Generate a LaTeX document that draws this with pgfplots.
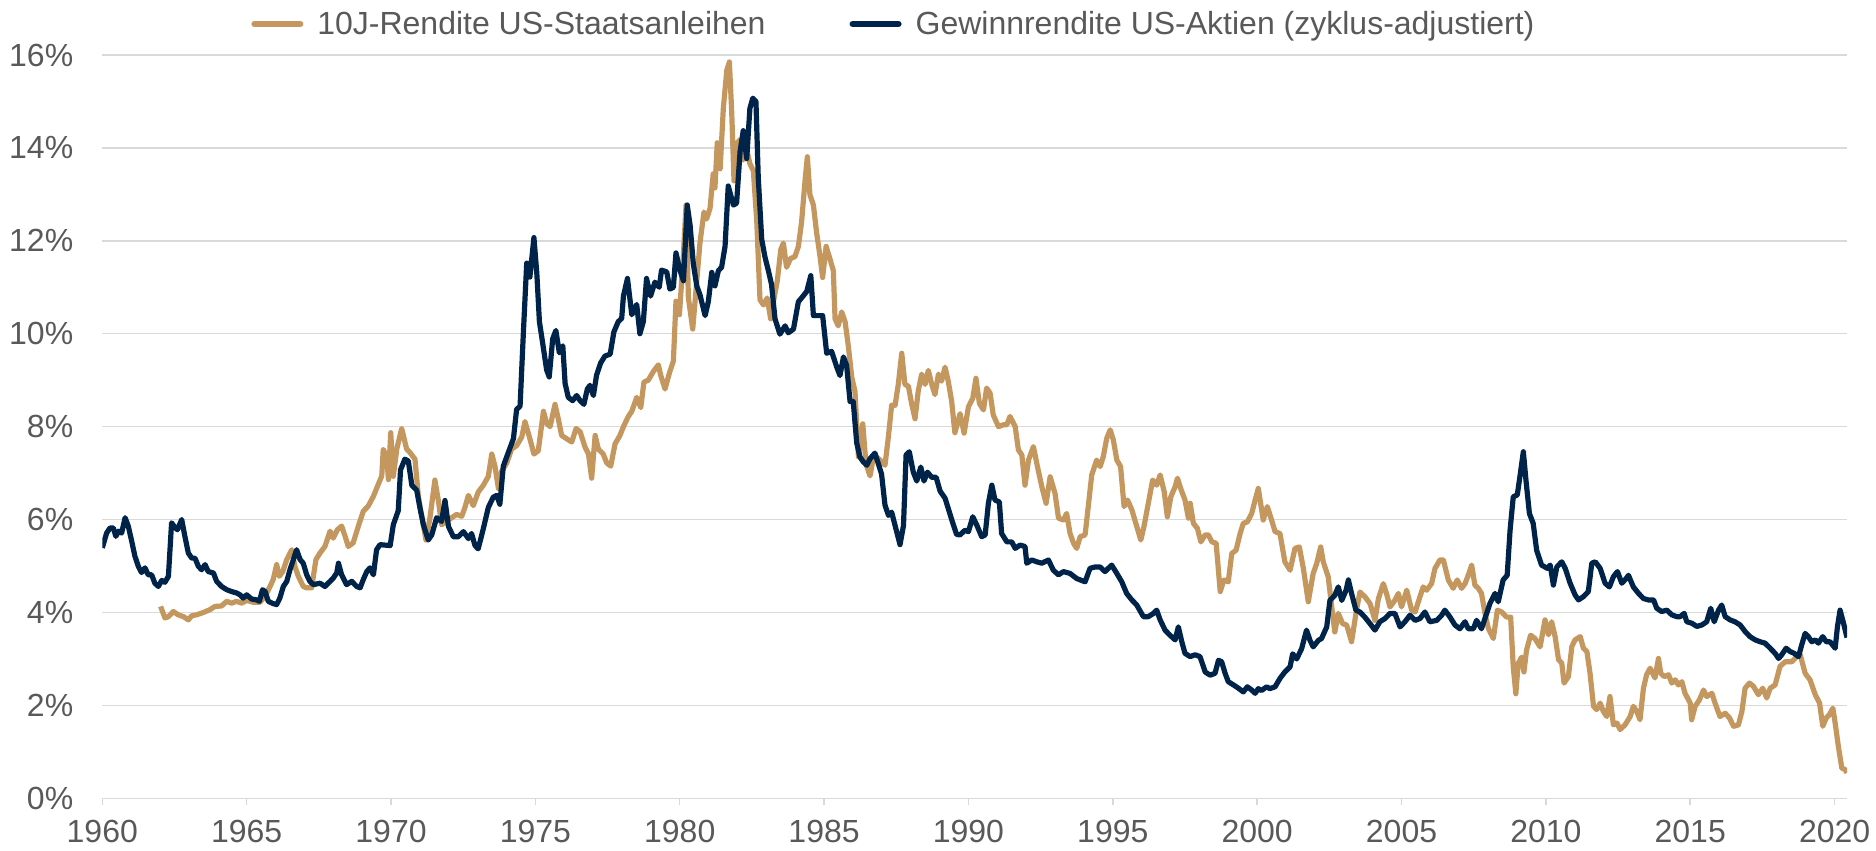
\documentclass[border=0pt]{standalone}
\usepackage{fontspec}
\setmainfont{Liberation Sans}
\usepackage{pgfplots}
\pgfplotsset{compat=1.18}
\definecolor{bondtan}{HTML}{C4975F}
\definecolor{eqnavy}{HTML}{00234A}
\definecolor{gridgray}{HTML}{D9D9D9}
\definecolor{txtgray}{HTML}{595959}
\newcommand{\chartfont}{\fontsize{16}{19}\selectfont}

\begin{document}
\begin{tikzpicture}
\begin{axis}[
    scale only axis,
    width=872.35pt, height=371.65pt,
    xmin=1960, xmax=2020.43, ymin=0, ymax=16,
    axis x line*=bottom, axis y line*=left,
    axis line style={draw=none},
    xtick={1960,1965,...,2020},
    ytick={0,2,...,16},
    ymajorgrids,
    grid style={gridgray, line width=0.75pt},
    tick align=outside,
    major tick length=3.5pt,
    x tick style={gridgray, line width=0.75pt},
    y tick style={draw=none},
    tick label style={font=\chartfont, text=txtgray, /pgf/number format/assume math mode=true},
    xticklabel style={/pgf/number format/1000 sep={}, yshift=-4pt},
    yticklabel={\pgfmathprintnumber{\tick}\%},
    yticklabel style={xshift=-7.5pt},
    legend columns=2,
    legend style={draw=none, fill=none, at={(0.0852,1.0417)}, anchor=west,
        inner sep=0pt, font=\chartfont, text=txtgray,
        nodes={inner sep=0pt},
        /tikz/every odd column/.append style={column sep=7pt},
        /tikz/every even column/.append style={column sep=42pt}},
    legend image code/.code={\draw[#1, line width=3pt, line cap=round] (1.5pt,0pt) -- (24.5pt,0pt);},
    every axis plot/.append style={line width=2.6pt, line join=round, mark=none},
]
% 10-year Treasury yield
\addplot[bondtan] coordinates {
(1962.02,4.13)(1962.17,3.88)(1962.29,3.91)(1962.46,4.02)(1962.63,3.95)(1962.81,3.91)(1962.98,3.84)(1963.10,3.93)(1963.27,3.95)(1963.50,4.00)(1963.73,4.06)(1963.90,4.13)(1964.13,4.14)(1964.31,4.24)(1964.48,4.20)(1964.65,4.24)(1964.83,4.20)(1965.00,4.26)(1965.23,4.22)(1965.46,4.22)(1965.64,4.35)(1965.81,4.56)(1965.92,4.71)(1966.04,5.03)(1966.13,4.78)(1966.25,4.88)(1966.39,5.14)(1966.56,5.35)(1966.67,4.99)(1966.79,4.78)(1966.96,4.56)(1967.08,4.53)(1967.25,4.53)(1967.40,5.14)(1967.54,5.28)(1967.71,5.42)(1967.89,5.75)(1968.00,5.60)(1968.14,5.78)(1968.29,5.86)(1968.41,5.64)(1968.52,5.42)(1968.69,5.50)(1968.87,5.86)(1969.04,6.18)(1969.21,6.29)(1969.39,6.50)(1969.56,6.76)(1969.68,6.94)(1969.73,7.51)(1969.85,7.37)(1969.91,6.86)(1969.99,7.87)(1970.08,6.93)(1970.20,7.52)(1970.37,7.96)(1970.54,7.52)(1970.66,7.44)(1970.83,7.30)(1970.95,6.48)(1971.12,5.89)(1971.21,5.56)(1971.35,6.04)(1971.52,6.85)(1971.64,6.41)(1971.75,5.89)(1971.93,5.96)(1972.10,6.04)(1972.27,6.11)(1972.45,6.07)(1972.56,6.26)(1972.68,6.52)(1972.85,6.30)(1973.02,6.59)(1973.20,6.74)(1973.37,6.93)(1973.49,7.41)(1973.60,7.15)(1973.72,6.67)(1973.83,7.04)(1974.01,7.22)(1974.18,7.52)(1974.35,7.59)(1974.53,7.78)(1974.64,8.11)(1974.81,7.74)(1974.95,7.41)(1975.10,7.48)(1975.28,8.33)(1975.39,8.07)(1975.51,8.00)(1975.68,8.48)(1975.80,8.15)(1975.91,7.81)(1976.08,7.74)(1976.26,7.67)(1976.41,7.96)(1976.55,7.89)(1976.72,7.56)(1976.84,7.41)(1976.95,6.89)(1977.07,7.81)(1977.18,7.52)(1977.35,7.41)(1977.47,7.22)(1977.61,7.15)(1977.76,7.63)(1977.93,7.81)(1978.05,8.00)(1978.22,8.22)(1978.34,8.33)(1978.51,8.63)(1978.65,8.41)(1978.76,8.96)(1978.91,9.00)(1979.09,9.19)(1979.26,9.33)(1979.34,9.11)(1979.49,8.81)(1979.64,9.15)(1979.78,9.41)(1979.87,10.70)(1979.99,10.41)
(1980.13,11.73)(1980.22,12.77)(1980.30,10.77)(1980.45,10.10)(1980.56,10.91)(1980.70,11.95)(1980.84,12.62)(1980.93,12.47)(1981.05,12.70)(1981.16,13.44)(1981.22,13.14)(1981.30,14.11)(1981.40,13.55)(1981.51,14.85)(1981.63,15.67)(1981.72,15.85)(1981.80,14.78)(1981.88,13.29)(1982.00,14.11)(1982.09,14.18)(1982.20,13.74)(1982.32,13.96)(1982.43,13.66)(1982.55,13.51)(1982.67,12.40)(1982.78,10.73)(1982.90,10.62)(1983.03,10.77)(1983.15,10.32)(1983.27,10.77)(1983.38,11.14)(1983.50,11.81)(1983.59,11.95)(1983.70,11.43)(1983.84,11.62)(1983.99,11.66)(1984.11,11.88)(1984.22,12.40)(1984.34,13.29)(1984.42,13.81)(1984.51,12.99)(1984.63,12.77)(1984.74,12.18)(1984.86,11.66)(1984.95,11.21)(1985.07,11.88)(1985.18,11.66)(1985.32,11.36)(1985.38,10.32)(1985.49,10.17)(1985.61,10.47)(1985.73,10.25)(1985.84,9.73)(1985.96,9.06)(1986.07,8.76)(1986.19,7.35)(1986.34,8.06)(1986.45,7.20)(1986.59,6.94)(1986.71,7.35)(1986.82,7.35)(1987.00,7.24)(1987.11,7.17)(1987.23,7.80)(1987.34,8.46)(1987.46,8.46)(1987.57,8.91)(1987.69,9.58)(1987.80,8.91)(1987.92,8.87)(1988.03,8.50)(1988.15,8.17)(1988.26,8.76)(1988.38,9.13)(1988.50,8.91)(1988.61,9.21)(1988.73,8.91)(1988.84,8.69)(1988.96,9.13)(1989.07,8.98)(1989.19,9.28)(1989.30,8.98)(1989.42,8.54)(1989.53,7.87)(1989.71,8.28)(1989.85,7.86)
(1990.00,8.43)(1990.15,8.61)(1990.26,9.04)(1990.38,8.50)(1990.52,8.36)(1990.63,8.83)(1990.75,8.72)(1990.86,8.25)(1991.04,8.00)(1991.21,8.04)(1991.33,8.04)(1991.44,8.22)(1991.62,8.00)(1991.73,7.50)(1991.85,7.39)(1991.96,6.74)(1992.08,7.28)(1992.25,7.57)(1992.39,7.14)(1992.54,6.71)(1992.69,6.35)(1992.83,6.92)(1993.00,6.56)(1993.12,6.03)(1993.29,5.99)(1993.40,6.13)(1993.52,5.70)(1993.64,5.49)(1993.75,5.38)(1993.87,5.63)(1994.04,5.67)(1994.15,6.28)(1994.27,6.96)(1994.44,7.28)(1994.56,7.14)(1994.67,7.35)(1994.79,7.75)(1994.91,7.93)(1995.02,7.71)(1995.14,7.28)(1995.27,7.14)(1995.39,6.28)(1995.51,6.42)(1995.66,6.21)(1995.83,5.85)(1995.97,5.56)(1996.08,5.85)(1996.23,6.35)(1996.38,6.85)(1996.52,6.74)(1996.64,6.96)(1996.78,6.60)(1996.89,6.06)(1997.01,6.49)(1997.16,6.71)(1997.24,6.89)(1997.35,6.67)(1997.50,6.42)(1997.62,6.03)(1997.68,6.35)(1997.79,5.92)(1997.93,5.81)(1998.05,5.52)(1998.20,5.67)(1998.31,5.67)(1998.43,5.52)(1998.58,5.49)(1998.72,4.45)(1998.85,4.70)(1999.00,4.66)(1999.12,5.27)(1999.27,5.34)(1999.41,5.70)(1999.52,5.92)(1999.66,5.95)(1999.81,6.13)(1999.93,6.42)
(2000.04,6.67)(2000.21,5.99)(2000.35,6.28)(2000.50,5.99)(2000.62,5.74)(2000.79,5.70)(2000.96,5.09)(2001.14,4.91)(2001.31,5.38)(2001.46,5.41)(2001.60,4.95)(2001.77,4.23)(2001.94,4.84)(2002.06,5.05)(2002.20,5.41)(2002.29,5.09)(2002.46,4.77)(2002.61,3.98)(2002.69,3.58)(2002.81,3.98)(2002.96,3.76)(2003.10,3.73)(2003.27,3.37)(2003.44,4.05)(2003.56,4.44)(2003.73,4.34)(2003.91,4.19)(2004.08,3.83)(2004.20,4.30)(2004.37,4.62)(2004.48,4.41)(2004.60,4.12)(2004.77,4.26)(2004.89,4.41)(2005.00,4.12)(2005.18,4.48)(2005.35,4.05)(2005.47,4.01)(2005.64,4.34)(2005.75,4.55)(2005.87,4.48)(2006.04,4.62)(2006.16,4.95)(2006.33,5.13)(2006.45,5.13)(2006.62,4.70)(2006.79,4.52)(2006.93,4.70)(2007.08,4.52)(2007.20,4.62)(2007.31,4.80)(2007.43,5.02)(2007.54,4.59)(2007.66,4.52)(2007.77,4.41)(2007.89,3.98)(2008.01,3.65)(2008.18,3.44)(2008.32,4.05)(2008.47,4.01)(2008.64,3.90)(2008.78,3.90)(2008.87,2.83)(2008.96,2.25)(2009.04,2.90)(2009.16,3.04)(2009.24,2.72)(2009.33,3.19)(2009.47,3.51)(2009.62,3.44)(2009.80,3.26)(2009.97,3.84)
(2010.09,3.52)(2010.20,3.80)(2010.32,3.48)(2010.44,2.98)(2010.55,2.91)(2010.63,2.48)(2010.78,2.62)(2010.90,3.27)(2011.01,3.41)(2011.19,3.48)(2011.30,3.23)(2011.42,3.16)(2011.53,2.69)(2011.65,1.98)(2011.76,1.91)(2011.88,2.05)(2011.99,1.87)(2012.11,1.76)(2012.22,2.19)(2012.34,1.58)(2012.46,1.62)(2012.57,1.48)(2012.74,1.58)(2012.92,1.76)(2013.03,1.98)(2013.15,1.87)(2013.26,1.69)(2013.38,2.37)(2013.49,2.66)(2013.61,2.80)(2013.78,2.59)(2013.90,3.01)(2013.98,2.69)(2014.10,2.62)(2014.25,2.66)(2014.36,2.48)(2014.48,2.55)(2014.59,2.44)(2014.71,2.51)(2014.82,2.26)(2015.00,2.05)(2015.05,1.69)(2015.17,1.98)(2015.32,2.12)(2015.46,2.33)(2015.57,2.19)(2015.75,2.26)(2015.86,2.05)(2016.03,1.76)(2016.21,1.83)(2016.36,1.73)(2016.50,1.55)(2016.67,1.58)(2016.79,1.87)(2016.90,2.37)(2017.05,2.48)(2017.19,2.41)(2017.36,2.23)(2017.51,2.37)(2017.65,2.16)(2017.77,2.37)(2017.94,2.44)(2018.11,2.84)(2018.29,2.94)(2018.40,2.94)(2018.52,2.94)(2018.69,3.05)(2018.81,3.09)(2018.98,2.69)(2019.15,2.55)(2019.33,2.23)(2019.48,2.05)(2019.59,1.55)(2019.71,1.73)(2019.82,1.80)(2019.94,1.94)(2020.02,1.62)(2020.13,1.12)(2020.25,0.65)(2020.36,0.62)(2020.43,0.55)
};
\addlegendentry{10J-Rendite US-Staatsanleihen}
% cyclically adjusted earnings yield
\addplot[eqnavy] coordinates {
(1960.00,5.39)(1960.15,5.71)(1960.27,5.82)(1960.38,5.82)(1960.47,5.64)(1960.56,5.75)(1960.67,5.71)(1960.79,6.04)(1960.90,5.86)(1961.02,5.53)(1961.13,5.21)(1961.25,4.99)(1961.36,4.86)(1961.48,4.96)(1961.59,4.81)(1961.71,4.81)(1961.82,4.63)(1961.94,4.56)(1962.06,4.69)(1962.17,4.65)(1962.29,4.78)(1962.40,5.93)(1962.48,5.86)(1962.60,5.78)(1962.75,6.00)(1962.86,5.64)(1962.98,5.28)(1963.10,5.17)(1963.21,5.17)(1963.33,4.99)(1963.44,4.92)(1963.56,5.03)(1963.67,4.88)(1963.85,4.85)(1963.96,4.67)(1964.13,4.56)(1964.31,4.49)(1964.48,4.45)(1964.65,4.42)(1964.77,4.38)(1964.88,4.31)(1965.00,4.38)(1965.17,4.29)(1965.35,4.27)(1965.44,4.24)(1965.55,4.49)(1965.64,4.45)(1965.75,4.24)(1965.92,4.19)(1966.04,4.17)(1966.15,4.31)(1966.27,4.56)(1966.39,4.67)(1966.50,4.92)(1966.62,5.14)(1966.73,5.35)(1966.85,5.14)(1966.96,5.06)(1967.08,4.81)(1967.19,4.67)(1967.31,4.60)(1967.54,4.63)(1967.71,4.56)(1967.89,4.67)(1968.00,4.74)(1968.12,4.85)(1968.18,5.06)(1968.29,4.81)(1968.46,4.60)(1968.64,4.67)(1968.81,4.56)(1968.93,4.53)(1969.04,4.71)(1969.16,4.88)(1969.27,4.96)(1969.39,4.81)(1969.50,5.35)(1969.62,5.46)(1969.79,5.45)(1969.97,5.44)
(1970.08,5.89)(1970.25,6.19)(1970.33,7.07)(1970.48,7.30)(1970.60,7.26)(1970.72,6.74)(1970.89,6.63)(1971.00,6.26)(1971.12,5.89)(1971.29,5.56)(1971.41,5.67)(1971.58,6.04)(1971.75,5.96)(1971.87,6.41)(1971.99,5.85)(1972.16,5.63)(1972.33,5.63)(1972.51,5.74)(1972.68,5.59)(1972.79,5.70)(1972.91,5.44)(1973.02,5.37)(1973.20,5.81)(1973.37,6.26)(1973.54,6.48)(1973.66,6.52)(1973.77,6.33)(1973.89,7.15)(1974.06,7.44)(1974.24,7.74)(1974.35,8.37)(1974.47,8.44)(1974.58,9.96)(1974.70,11.52)(1974.81,11.22)(1974.95,12.07)(1975.05,11.30)(1975.14,10.26)(1975.25,9.81)(1975.39,9.22)(1975.48,9.07)(1975.60,9.89)(1975.71,10.07)(1975.83,9.59)(1975.95,9.74)(1976.03,8.93)(1976.14,8.63)(1976.29,8.56)(1976.43,8.67)(1976.55,8.56)(1976.68,8.48)(1976.80,8.81)(1976.89,8.89)(1977.01,8.67)(1977.12,9.11)(1977.26,9.37)(1977.41,9.52)(1977.59,9.56)(1977.72,10.04)(1977.87,10.26)(1977.99,10.33)(1978.05,10.81)(1978.19,11.19)(1978.34,10.41)(1978.51,10.63)(1978.62,10.00)(1978.74,10.26)(1978.85,11.19)(1978.99,10.81)(1979.14,11.11)(1979.29,11.00)(1979.37,11.37)(1979.55,11.33)(1979.66,10.96)(1979.78,11.00)(1979.87,11.74)
(1980.01,11.36)(1980.13,11.14)(1980.26,12.77)(1980.36,12.33)(1980.47,11.51)(1980.59,11.03)(1980.70,10.84)(1980.88,10.39)(1980.99,10.69)(1981.11,11.32)(1981.22,11.03)(1981.34,11.36)(1981.45,11.43)(1981.57,11.88)(1981.68,13.18)(1981.86,12.77)(1981.97,12.81)(1982.09,13.92)(1982.20,14.37)(1982.32,13.77)(1982.43,14.85)(1982.53,15.07)(1982.64,15.00)(1982.72,13.36)(1982.84,12.03)(1982.95,11.66)(1983.07,11.36)(1983.18,11.06)(1983.30,10.32)(1983.47,9.99)(1983.65,10.17)(1983.76,10.02)(1983.94,10.10)(1984.11,10.69)(1984.22,10.77)(1984.40,10.91)(1984.54,11.25)(1984.63,10.39)(1984.80,10.39)(1984.95,10.39)(1985.09,9.58)(1985.26,9.62)(1985.44,9.28)(1985.55,9.10)(1985.67,9.50)(1985.78,9.32)(1985.90,8.54)(1986.01,8.54)(1986.13,7.65)(1986.24,7.35)(1986.36,7.24)(1986.48,7.17)(1986.59,7.31)(1986.76,7.43)(1986.88,7.20)(1986.99,6.98)(1987.11,6.31)(1987.23,6.09)(1987.34,6.16)(1987.46,5.87)(1987.63,5.46)(1987.75,5.87)(1987.84,7.39)(1987.95,7.46)(1988.09,7.02)(1988.21,6.83)(1988.35,7.13)(1988.46,6.83)(1988.58,7.02)(1988.73,6.91)(1988.88,6.91)(1989.02,6.61)(1989.19,6.46)(1989.34,6.16)(1989.45,5.94)(1989.59,5.68)(1989.71,5.67)(1989.88,5.77)
(1990.00,5.74)(1990.15,6.06)(1990.29,5.88)(1990.46,5.63)(1990.58,5.67)(1990.69,6.35)(1990.81,6.74)(1990.92,6.42)(1991.07,6.38)(1991.15,5.70)(1991.33,5.52)(1991.50,5.52)(1991.62,5.38)(1991.79,5.45)(1991.96,5.42)(1992.02,5.06)(1992.19,5.13)(1992.37,5.09)(1992.54,5.06)(1992.77,5.13)(1992.94,4.91)(1993.12,4.81)(1993.29,4.88)(1993.52,4.84)(1993.75,4.73)(1994.04,4.66)(1994.21,4.95)(1994.39,4.98)(1994.56,4.98)(1994.73,4.88)(1994.96,5.02)(1995.14,4.84)(1995.31,4.66)(1995.48,4.41)(1995.66,4.27)(1995.83,4.16)(1996.06,3.91)(1996.23,3.91)(1996.41,3.98)(1996.52,4.05)(1996.64,3.84)(1996.81,3.62)(1996.98,3.51)(1997.16,3.41)(1997.27,3.69)(1997.39,3.37)(1997.50,3.12)(1997.68,3.05)(1997.85,3.09)(1998.02,3.05)(1998.20,2.72)(1998.37,2.65)(1998.54,2.69)(1998.66,2.97)(1998.77,2.94)(1998.89,2.69)(1999.00,2.51)(1999.18,2.44)(1999.35,2.37)(1999.52,2.29)(1999.66,2.40)(1999.81,2.33)(1999.93,2.26)
(2000.04,2.36)(2000.15,2.32)(2000.33,2.40)(2000.44,2.36)(2000.62,2.40)(2000.79,2.58)(2000.96,2.72)(2001.14,2.83)(2001.23,3.11)(2001.37,3.00)(2001.54,3.22)(2001.71,3.62)(2001.83,3.40)(2001.94,3.26)(2002.12,3.40)(2002.23,3.44)(2002.41,3.69)(2002.52,4.26)(2002.69,4.37)(2002.81,4.55)(2002.93,4.26)(2003.08,4.48)(2003.16,4.70)(2003.27,4.41)(2003.42,4.05)(2003.56,4.01)(2003.73,3.90)(2003.91,3.76)(2004.08,3.62)(2004.25,3.80)(2004.43,3.87)(2004.60,3.98)(2004.77,3.98)(2004.95,3.69)(2005.12,3.80)(2005.29,3.94)(2005.47,3.83)(2005.64,3.87)(2005.81,4.01)(2005.98,3.80)(2006.22,3.83)(2006.39,3.94)(2006.50,4.05)(2006.68,3.90)(2006.85,3.73)(2007.02,3.65)(2007.20,3.80)(2007.31,3.65)(2007.49,3.65)(2007.60,3.83)(2007.77,3.65)(2007.89,3.87)(2008.06,4.19)(2008.24,4.41)(2008.35,4.23)(2008.52,4.70)(2008.66,4.80)(2008.76,5.77)(2008.87,6.49)(2009.01,6.53)(2009.10,6.92)(2009.22,7.46)(2009.31,6.85)(2009.43,6.13)(2009.56,5.92)(2009.68,5.34)(2009.85,5.02)
(2010.05,4.95)(2010.15,5.02)(2010.26,4.59)(2010.38,4.98)(2010.55,5.09)(2010.67,4.95)(2010.84,4.63)(2011.01,4.38)(2011.13,4.27)(2011.30,4.34)(2011.47,4.45)(2011.59,5.06)(2011.71,5.09)(2011.88,4.95)(2012.05,4.63)(2012.20,4.55)(2012.34,4.77)(2012.48,4.88)(2012.63,4.63)(2012.78,4.73)(2012.86,4.80)(2013.03,4.55)(2013.21,4.41)(2013.38,4.30)(2013.55,4.27)(2013.73,4.27)(2013.84,4.09)(2014.01,4.02)(2014.19,4.05)(2014.36,3.95)(2014.53,3.91)(2014.65,3.91)(2014.79,3.98)(2014.88,3.80)(2015.05,3.77)(2015.23,3.70)(2015.40,3.73)(2015.57,3.80)(2015.71,4.09)(2015.83,3.80)(2015.98,4.05)(2016.09,4.16)(2016.21,3.91)(2016.38,3.84)(2016.55,3.80)(2016.73,3.73)(2016.90,3.59)(2017.07,3.48)(2017.25,3.41)(2017.42,3.37)(2017.59,3.34)(2017.77,3.23)(2017.94,3.12)(2018.06,3.01)(2018.17,3.09)(2018.32,3.23)(2018.46,3.16)(2018.60,3.12)(2018.75,3.05)(2018.86,3.30)(2018.98,3.55)(2019.09,3.48)(2019.21,3.37)(2019.33,3.41)(2019.44,3.34)(2019.59,3.48)(2019.71,3.37)(2019.84,3.37)(2020.02,3.23)(2020.10,3.70)(2020.19,4.05)(2020.31,3.77)(2020.43,3.46)
};
\addlegendentry{Gewinnrendite US-Aktien (zyklus-adjustiert)}
\end{axis}
\pgfresetboundingbox
\path[use as bounding box] (-51.15pt,-26.35pt) rectangle (886.85pt,399.15pt);
\end{tikzpicture}
\end{document}
